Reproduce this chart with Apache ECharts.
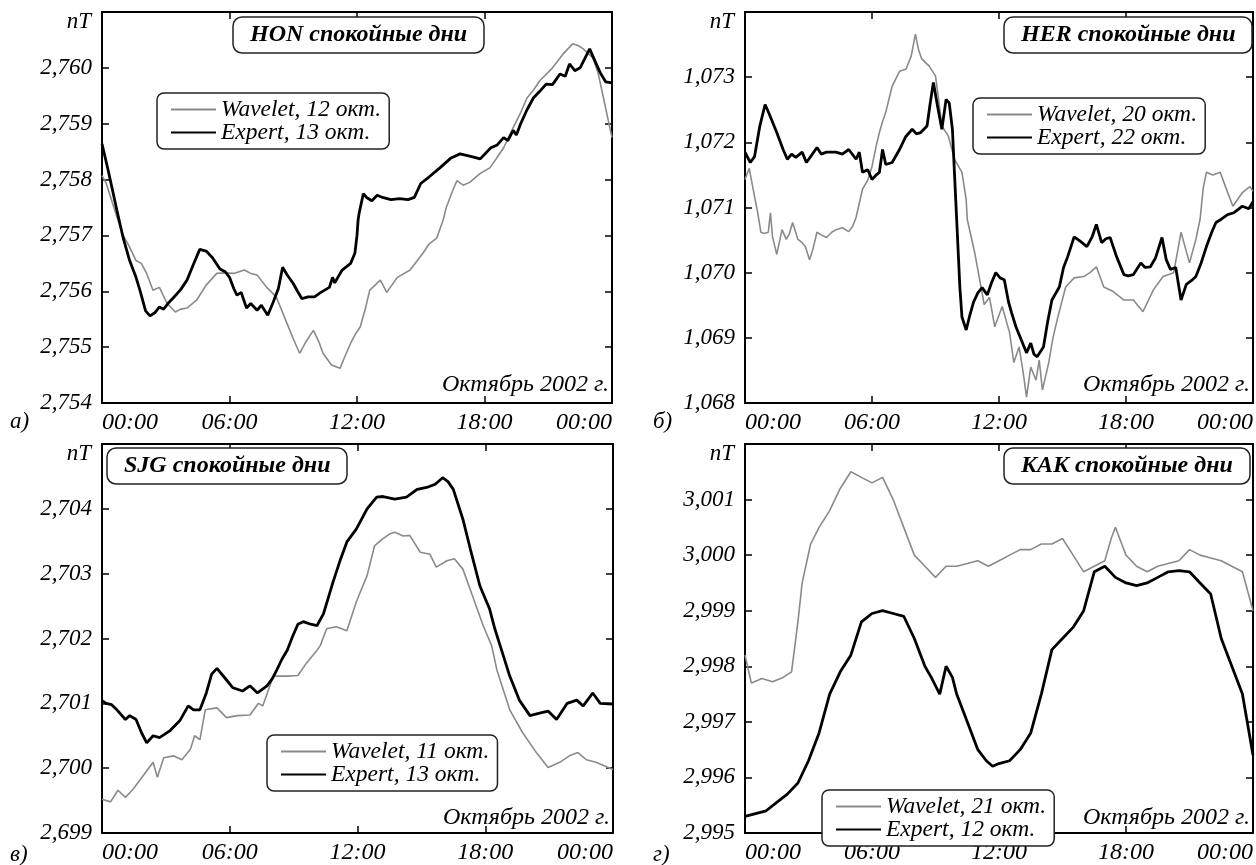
<!DOCTYPE html>
<html><head><meta charset="utf-8">
<script src="https://cdn.jsdelivr.net/npm/echarts@6/dist/echarts.min.js"></script>
<style>html,body{margin:0;padding:0;background:#fff}#c{width:1256px;height:865px}</style>
</head><body><div id="c"></div>
<script>
// x = hours since 00:00, y = nT
const HOURS_TICKS = [0, 6, 12, 18, 24];
const HOUR_LABELS = ['00:00', '06:00', '12:00', '18:00', '00:00'];

const HON_WAVELET = [[0,2.75807],[0.2,2.75793],[0.5,2.75757],[0.75,2.75727],[1.0,2.757],[1.3,2.75679],[1.6,2.75655],[1.85,2.7565],[2.1,2.75632],[2.4,2.75602],[2.7,2.75607],[3.05,2.75579],[3.45,2.75563],[3.7,2.75568],[4.0,2.7557],[4.45,2.75584],[4.9,2.75611],[5.4,2.75632],[5.8,2.75633],[6.2,2.75632],[6.7,2.75638],[7.0,2.75632],[7.3,2.75629],[7.75,2.75607],[8.2,2.7559],[8.7,2.75543],[9.0,2.75515],[9.3,2.75489],[9.6,2.7551],[9.95,2.7553],[10.2,2.7551],[10.4,2.75489],[10.8,2.75468],[11.2,2.75462],[11.45,2.75485],[11.7,2.75507],[11.95,2.75525],[12.15,2.75536],[12.4,2.7557],[12.6,2.75602],[13.1,2.7562],[13.4,2.75598],[13.9,2.75625],[14.5,2.75638],[15.1,2.75668],[15.4,2.75685],[15.75,2.75695],[16.05,2.75727],[16.2,2.7575],[16.5,2.7578],[16.7,2.75798],[17.0,2.7579],[17.3,2.75795],[17.8,2.75811],[18.25,2.75821],[18.6,2.7584],[18.9,2.75857],[19.35,2.75893],[19.7,2.7592],[20.0,2.75946],[20.3,2.7596],[20.6,2.75977],[21.2,2.76],[21.7,2.76025],[22.15,2.76043],[22.4,2.7604],[22.65,2.76034],[23.1,2.76018],[23.35,2.7599],[23.6,2.75946],[23.8,2.7591],[24,2.75875]];
const HON_EXPERT = [[0,2.75864],[0.3,2.75815],[0.7,2.75745],[1.0,2.75695],[1.3,2.75655],[1.6,2.75625],[1.8,2.7560],[2.05,2.75565],[2.26,2.75556],[2.5,2.75562],[2.7,2.75572],[2.9,2.75568],[3.1,2.75578],[3.35,2.75588],[3.7,2.75603],[4.0,2.7562],[4.3,2.75648],[4.6,2.75675],[4.9,2.75672],[5.2,2.7566],[5.55,2.7564],[5.8,2.75635],[6.0,2.75625],[6.2,2.75605],[6.35,2.75593],[6.55,2.75598],[6.8,2.7557],[7.0,2.75578],[7.3,2.75566],[7.5,2.75575],[7.8,2.75557],[8.05,2.7558],[8.3,2.75605],[8.5,2.75643],[8.7,2.7563],[9.0,2.75614],[9.2,2.756],[9.4,2.75587],[9.7,2.7559],[10.0,2.7559],[10.3,2.75598],[10.7,2.75607],[10.85,2.75625],[10.95,2.75615],[11.3,2.75638],[11.7,2.7565],[11.9,2.75668],[12.0,2.757],[12.05,2.75727],[12.1,2.7574],[12.3,2.75775],[12.45,2.75768],[12.7,2.75762],[12.95,2.75772],[13.2,2.75768],[13.6,2.75764],[14.0,2.75766],[14.4,2.75764],[14.7,2.75768],[15.0,2.75793],[15.4,2.75805],[15.9,2.75821],[16.4,2.75838],[16.85,2.75846],[17.3,2.75842],[17.8,2.75837],[18.3,2.75857],[18.6,2.75862],[18.9,2.75875],[19.1,2.7587],[19.35,2.75888],[19.5,2.7588],[19.7,2.759],[20.0,2.75925],[20.3,2.75946],[20.6,2.75958],[20.9,2.75971],[21.2,2.7597],[21.55,2.75989],[21.8,2.75985],[22.0,2.76007],[22.25,2.75995],[22.5,2.76],[22.7,2.76015],[22.95,2.76034],[23.2,2.76012],[23.45,2.75991],[23.7,2.75975],[24,2.75973]];

const HER_WAVELET = [[0,1.07143],[0.2,1.0716],[0.45,1.07117],[0.6,1.07092],[0.75,1.07062],[0.9,1.0706],[1.1,1.07062],[1.2,1.07092],[1.3,1.07055],[1.5,1.07028],[1.75,1.07066],[1.95,1.07051],[2.1,1.0706],[2.25,1.07077],[2.5,1.07051],[2.7,1.07046],[2.85,1.0704],[3.05,1.0702],[3.2,1.07035],[3.4,1.07062],[3.6,1.07058],[3.85,1.07054],[4.1,1.07062],[4.3,1.07066],[4.6,1.07069],[4.9,1.07063],[5.1,1.07072],[5.25,1.07085],[5.55,1.07128],[5.8,1.07142],[6.0,1.07163],[6.2,1.07195],[6.35,1.07215],[6.5,1.07232],[6.65,1.07246],[6.95,1.07286],[7.3,1.07309],[7.6,1.07312],[7.85,1.07332],[8.05,1.07366],[8.2,1.07342],[8.35,1.07328],[8.7,1.07317],[9.0,1.07302],[9.15,1.07265],[9.3,1.07225],[9.6,1.0721],[9.9,1.07174],[10.25,1.07154],[10.45,1.07112],[10.5,1.07082],[10.85,1.07031],[11.15,1.06978],[11.3,1.06951],[11.55,1.06962],[11.8,1.06917],[12.15,1.06948],[12.5,1.06908],[12.7,1.06862],[12.95,1.06886],[13.15,1.06845],[13.3,1.06809],[13.5,1.06855],[13.75,1.06835],[13.9,1.06866],[14.05,1.0682],[14.35,1.06862],[14.55,1.069],[14.75,1.06928],[15.15,1.06978],[15.55,1.06992],[16.0,1.06994],[16.3,1.07],[16.6,1.07009],[16.95,1.06978],[17.4,1.06971],[17.9,1.06958],[18.35,1.06958],[18.8,1.0694],[19.3,1.06974],[19.75,1.06994],[20.25,1.07],[20.45,1.07035],[20.6,1.07062],[21.0,1.07015],[21.3,1.07051],[21.5,1.07082],[21.65,1.0713],[21.8,1.07154],[22.1,1.0715],[22.45,1.07154],[22.7,1.07132],[23.05,1.07102],[23.5,1.07123],[23.85,1.07132],[24,1.07125]];
const HER_EXPERT = [[0,1.07185],[0.25,1.07169],[0.45,1.07178],[0.7,1.07225],[0.95,1.07258],[1.15,1.07243],[1.5,1.07215],[1.8,1.07189],[2.0,1.07174],[2.2,1.07182],[2.4,1.07177],[2.7,1.07185],[2.9,1.07169],[3.1,1.07178],[3.4,1.07192],[3.6,1.07182],[3.85,1.07185],[4.3,1.07185],[4.6,1.07182],[4.9,1.07189],[5.25,1.07174],[5.4,1.07185],[5.55,1.07154],[5.8,1.07158],[6.0,1.07143],[6.2,1.0715],[6.35,1.07154],[6.5,1.07189],[6.65,1.07166],[6.95,1.07169],[7.3,1.07189],[7.6,1.07209],[7.9,1.0722],[8.1,1.07213],[8.3,1.07215],[8.6,1.07225],[8.75,1.0726],[8.9,1.07292],[9.1,1.07255],[9.3,1.0722],[9.5,1.07266],[9.65,1.0726],[9.8,1.0722],[9.9,1.0715],[10.0,1.07082],[10.15,1.06978],[10.25,1.06932],[10.45,1.06912],[10.6,1.06932],[10.8,1.06955],[11.0,1.06969],[11.2,1.06977],[11.45,1.06966],[11.65,1.06985],[11.85,1.07],[12.05,1.06992],[12.25,1.06989],[12.45,1.06955],[12.6,1.06938],[12.8,1.06917],[13.05,1.06897],[13.3,1.06877],[13.5,1.06892],[13.65,1.06875],[13.8,1.06871],[14.1,1.06886],[14.3,1.06925],[14.5,1.06958],[14.85,1.06978],[15.05,1.07008],[15.25,1.07025],[15.4,1.0704],[15.55,1.07055],[15.85,1.07048],[16.15,1.0704],[16.4,1.07055],[16.6,1.07074],[16.85,1.07046],[17.05,1.07052],[17.25,1.07054],[17.55,1.07025],[17.9,1.06997],[18.1,1.06995],[18.35,1.06997],[18.5,1.07005],[18.7,1.07015],[18.9,1.07008],[19.15,1.07009],[19.4,1.07023],[19.7,1.07054],[19.9,1.0702],[20.1,1.07005],[20.35,1.07008],[20.6,1.06958],[20.85,1.06982],[21.1,1.06988],[21.3,1.06994],[21.55,1.07015],[21.8,1.0704],[22.05,1.07062],[22.25,1.07077],[22.5,1.07082],[22.8,1.07089],[23.1,1.07092],[23.5,1.07102],[23.8,1.07098],[24,1.07109]];

const SJG_WAVELET = [[0,2.69952],[0.4,2.69948],[0.75,2.69966],[1.1,2.69955],[1.45,2.69967],[1.95,2.69989],[2.4,2.70009],[2.6,2.69986],[2.9,2.70016],[3.35,2.70019],[3.75,2.70013],[4.15,2.70029],[4.35,2.7005],[4.6,2.70044],[4.85,2.7009],[5.4,2.70093],[5.85,2.70078],[6.35,2.70081],[6.95,2.70082],[7.35,2.701],[7.55,2.70096],[8.05,2.70142],[8.7,2.70142],[9.2,2.70143],[9.6,2.70162],[10.1,2.70182],[10.25,2.70189],[10.55,2.70215],[11.0,2.70218],[11.5,2.70212],[11.95,2.70257],[12.45,2.70297],[12.8,2.70343],[13.15,2.70353],[13.5,2.70361],[13.75,2.70364],[14.15,2.70358],[14.45,2.70359],[14.95,2.70333],[15.4,2.7033],[15.7,2.7031],[16.2,2.7032],[16.55,2.70323],[16.95,2.70307],[17.4,2.70266],[17.9,2.7022],[18.3,2.70189],[18.55,2.70151],[19.15,2.7009],[19.75,2.70055],[20.4,2.70024],[20.95,2.70001],[21.5,2.70009],[21.95,2.70019],[22.35,2.70024],[22.75,2.70013],[23.2,2.70009],[24,2.69998]];
const SJG_EXPERT = [[0,2.70104],[0.2,2.701],[0.45,2.70098],[0.7,2.7009],[1.1,2.70075],[1.3,2.70081],[1.6,2.70075],[1.85,2.70055],[2.1,2.70039],[2.4,2.7005],[2.7,2.70047],[3.2,2.70058],[3.65,2.70073],[4.05,2.70096],[4.3,2.7009],[4.6,2.7009],[4.9,2.70116],[5.15,2.70145],[5.4,2.70154],[5.85,2.70136],[6.15,2.70124],[6.6,2.70119],[6.95,2.70127],[7.3,2.70116],[7.75,2.70127],[8.0,2.70138],[8.2,2.70151],[8.45,2.70168],[8.7,2.70182],[8.95,2.70203],[9.2,2.70222],[9.45,2.70226],[9.8,2.70222],[10.1,2.7022],[10.4,2.70238],[10.85,2.70287],[11.2,2.70322],[11.5,2.70349],[11.95,2.70369],[12.45,2.704],[12.9,2.70418],[13.2,2.70419],[13.75,2.70415],[14.3,2.70418],[14.8,2.7043],[15.25,2.70433],[15.65,2.70438],[16.0,2.70448],[16.25,2.70442],[16.5,2.7043],[16.95,2.70384],[17.3,2.70338],[17.75,2.70281],[18.2,2.70246],[18.45,2.70215],[18.7,2.70189],[19.15,2.70142],[19.6,2.70105],[20.1,2.70081],[20.55,2.70085],[20.95,2.70088],[21.35,2.70075],[21.85,2.701],[22.3,2.70105],[22.6,2.70096],[23.05,2.70116],[23.4,2.701],[24,2.70099]];

const KAK_WAVELET = [[0,2.9982],[0.3,2.9977],[0.8,2.99778],[1.3,2.99772],[1.8,2.9978],[2.2,2.9979],[2.5,2.9988],[2.7,2.9995],[3.1,3.0002],[3.5,3.0005],[4.0,3.0008],[4.5,3.0012],[5.0,3.0015],[5.5,3.0014],[6.0,3.0013],[6.5,3.0014],[7.0,3.001],[7.5,3.0005],[8.0,3.0],[8.5,2.9998],[9.0,2.9996],[9.5,2.9998],[10.0,2.9998],[10.5,2.99985],[11.0,2.9999],[11.5,2.9998],[12.0,2.9999],[12.5,3.0],[13.0,3.0001],[13.5,3.0001],[14.0,3.0002],[14.5,3.0002],[15.0,3.0003],[15.5,3.0],[16.0,2.9997],[16.5,2.9998],[17.0,2.9999],[17.3,3.0003],[17.5,3.0005],[17.8,3.0002],[18.0,3.0],[18.5,2.9998],[19.0,2.9997],[19.5,2.9998],[20.0,2.99985],[20.5,2.9999],[21.0,3.0001],[21.5,3.0],[22.0,2.99995],[22.5,2.9999],[23.0,2.9998],[23.5,2.9997],[24,2.999]];
const KAK_EXPERT = [[0,2.9953],[0.5,2.99535],[1.0,2.9954],[1.5,2.99555],[2.0,2.9957],[2.5,2.9959],[3.0,2.9963],[3.5,2.9968],[4.0,2.9975],[4.5,2.9979],[5.0,2.9982],[5.5,2.9988],[6.0,2.99895],[6.5,2.999],[7.0,2.99895],[7.5,2.9989],[8.0,2.9985],[8.5,2.998],[8.8,2.9978],[9.2,2.9975],[9.5,2.998],[9.8,2.9978],[10.0,2.9975],[10.5,2.997],[11.0,2.9965],[11.4,2.9963],[11.7,2.9962],[12.0,2.99625],[12.5,2.9963],[13.0,2.9965],[13.5,2.9968],[14.0,2.9975],[14.5,2.9983],[15.0,2.9985],[15.5,2.9987],[16.0,2.999],[16.5,2.9997],[17.0,2.9998],[17.5,2.9996],[18.0,2.9995],[18.5,2.99945],[19.0,2.9995],[19.5,2.9996],[20.0,2.9997],[20.5,2.99972],[21.0,2.9997],[21.5,2.9995],[22.0,2.9993],[22.5,2.9985],[23.0,2.998],[23.5,2.9975],[24,2.9964]];

const PANELS = [
  {station:'HON', letter:'а)', grid:{left:102, top:12, width:510, height:391}, yMin:2.754, yMax:2.761,
   wName:'Wavelet, 12 окт.', eName:'Expert, 13 окт.', wData:HON_WAVELET, eData:HON_EXPERT,
   legend:{left:157, top:93}, title:{left:233, top:17}},
  {station:'HER', letter:'б)', grid:{left:745, top:12, width:508, height:391}, yMin:1.068, yMax:1.074,
   wName:'Wavelet, 20 окт.', eName:'Expert, 22 окт.', wData:HER_WAVELET, eData:HER_EXPERT,
   legend:{left:973, top:98}, title:{left:1004, top:17}},
  {station:'SJG', letter:'в)', grid:{left:102, top:444, width:511, height:392}, yMin:2.699, yMax:2.705,
   wName:'Wavelet, 11 окт.', eName:'Expert, 13 окт.', wData:SJG_WAVELET, eData:SJG_EXPERT,
   legend:{left:267, top:735}, title:{left:107, top:448}},
  {station:'KAK', letter:'г)', grid:{left:745, top:444, width:508, height:392}, yMin:2.995, yMax:3.002,
   wName:'Wavelet, 21 окт.', eName:'Expert, 12 окт.', wData:KAK_WAVELET, eData:KAK_EXPERT,
   legend:{left:822, top:790}, title:{left:1004, top:448}}
];

const FONT = '"Liberation Serif", "DejaVu Serif", serif';
const option = {animation:false, backgroundColor:'#fff', grid:[], xAxis:[], yAxis:[], series:[], legend:[], title:[], graphic:[]};
const axisLine = {show:true, onZero:false, lineStyle:{color:'#000', width:2}};
const tick = {show:true, inside:true, length:7, lineStyle:{color:'#000', width:1.5}};

PANELS.forEach((p, i) => {
  option.grid.push(Object.assign({containLabel:false}, p.grid));
  const xi = option.xAxis.length, yi = option.yAxis.length;
  option.xAxis.push({type:'value', gridIndex:i, min:0, max:24, interval:6, position:'bottom',
    axisLine, axisTick:tick, splitLine:{show:false},
    axisLabel:{show:true, margin:8, color:'#000', fontFamily:FONT, fontStyle:'italic', fontSize:24,
      alignMinLabel:'left', alignMaxLabel:'right',
      formatter:v => HOUR_LABELS[HOURS_TICKS.indexOf(v)] || ''}});
  option.xAxis.push({type:'value', gridIndex:i, min:0, max:24, interval:6, position:'top',
    axisLine, axisTick:tick, axisLabel:{show:false}, splitLine:{show:false}});
  option.yAxis.push({type:'value', gridIndex:i, min:p.yMin, max:p.yMax, interval:0.001, position:'left',
    axisLine, axisTick:tick, splitLine:{show:false},
    axisLabel:{show:true, margin:10, color:'#000', fontFamily:FONT, fontStyle:'italic', fontSize:23,
      formatter:v => Math.abs(v - p.yMax) < 1e-9 ? '' : v.toFixed(3).replace('.', ',')}});
  option.yAxis.push({type:'value', gridIndex:i, min:p.yMin, max:p.yMax, interval:0.001, position:'right',
    axisLine, axisTick:tick, axisLabel:{show:false}, splitLine:{show:false}});
  option.series.push({type:'line', name:p.wName, xAxisIndex:xi, yAxisIndex:yi, data:p.wData,
    symbol:'none', showSymbol:false, lineStyle:{color:'#8a8a8a', width:1.6}, itemStyle:{color:'#8a8a8a'}, z:2});
  option.series.push({type:'line', name:p.eName, xAxisIndex:xi, yAxisIndex:yi, data:p.eData,
    symbol:'none', showSymbol:false, lineStyle:{color:'#000', width:2.8}, itemStyle:{color:'#000'}, z:3});
  option.legend.push({data:[p.wName, p.eName], orient:'vertical', left:p.legend.left, top:p.legend.top,
    backgroundColor:'#fff', borderColor:'#222', borderWidth:1.5, borderRadius:7, padding:[5,8,5,13],
    itemGap:0, itemWidth:45, itemHeight:14, itemTextGap:7, selectedMode:false,
    itemStyle:{opacity:0},
    textStyle:{fontFamily:FONT, fontStyle:'italic', fontSize:23.5, color:'#000', lineHeight:20}});
  option.title.push({text:p.station + ' спокойные дни', left:p.title.left, top:p.title.top,
    borderColor:'#222', borderWidth:1.5, borderRadius:9, padding:[6,17,6,17], backgroundColor:'#fff',
    textStyle:{fontFamily:FONT, fontStyle:'italic', fontWeight:'bold', fontSize:24, color:'#000', lineHeight:24}});
  const g = p.grid;
  option.graphic.push({type:'text', x:g.left - 11, y:g.top + 10, z:10,
    style:{text:'nT', font:'italic 23px ' + FONT, fill:'#000', align:'right', verticalAlign:'middle'}});
  option.graphic.push({type:'text', x:g.left + g.width - 3, y:g.top + g.height - 18, z:10,
    style:{text:'Октябрь 2002 г.', font:'italic 24px ' + FONT, fill:'#000', align:'right', verticalAlign:'middle'}});
  option.graphic.push({type:'text', x:g.left - 92, y:g.top + g.height + 19, z:10,
    style:{text:p.letter, font:'italic 23px ' + FONT, fill:'#000', align:'left', verticalAlign:'middle'}});
});

const chart = echarts.init(document.getElementById('c'), null, {renderer:'canvas'});
chart.setOption(option);
</script></body></html>
